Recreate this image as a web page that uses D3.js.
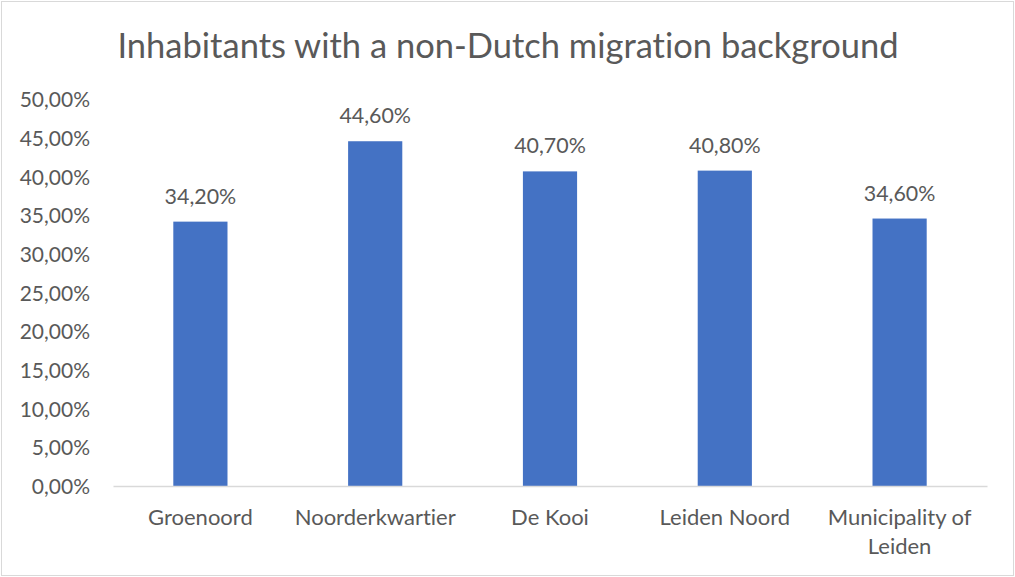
<!DOCTYPE html>
<html>
<head>
<meta charset="utf-8">
<script src="https://cdnjs.cloudflare.com/ajax/libs/d3/7.8.5/d3.min.js"></script>
<style>
  body { margin: 0; background: #fff; }
  text { font-family: Lato, "Open Sans", sans-serif; fill: #595959; font-variant-ligatures: none; font-feature-settings: "liga" 0; }
</style>
</head>
<body>
<div id="chart"></div>
<script>
// data
var categories = ["Groenoord", "Noorderkwartier", "De Kooi", "Leiden Noord", "Municipality of Leiden"];
var values = [34.2, 44.6, 40.7, 40.8, 34.6];
var yTicks = [0, 5, 10, 15, 20, 25, 30, 35, 40, 45, 50];
var title = "Inhabitants with a non-Dutch migration background";

var width = 1015, height = 577;
var margin = { top: 99.5, right: 28, bottom: 91, left: 113 };

var svg = d3.select("#chart").append("svg")
    .attr("width", width)
    .attr("height", height);

// outer frame
svg.append("rect")
    .attr("x", 1.5).attr("y", 1.5)
    .attr("width", width - 3).attr("height", height - 3)
    .style("fill", "#fff")
    .style("stroke", "#d9d9d9");

svg.append("text")
    .attr("x", 508)
    .attr("y", 58)
    .attr("text-anchor", "middle")
    .style("font-size", "34.5px")
    .text(title);

var x = d3.scaleBand()
    .domain(categories)
    .range([margin.left, width - margin.right])
    .paddingInner(0.69)
    .paddingOuter(0.345);

var y = d3.scaleLinear()
    .domain([0, 50])
    .range([height - margin.bottom, margin.top]);

function fmt(v) { return v.toFixed(2).replace(".", ",") + "%"; }

// y axis labels (no gridlines in reference)
var yAxis = d3.axisLeft(y)
    .tickValues(yTicks)
    .tickFormat(fmt)
    .tickSize(0)
    .tickPadding(0);

var gy = svg.append("g")
    .attr("transform", "translate(90,0)")
    .call(yAxis);
gy.select(".domain").remove();
gy.selectAll("text")
    .style("font-size", "21px")
    .style("fill", "#595959")
    .attr("dy", "0.35em");

// bars
svg.selectAll(".bar")
    .data(values)
  .enter().append("rect")
    .attr("class", "bar")
    .attr("x", function(d, i) { return x(categories[i]); })
    .attr("y", function(d) { return y(d); })
    .attr("width", x.bandwidth())
    .attr("height", function(d) { return y(0) - y(d); })
    .style("fill", "#4472c4");

// data labels
svg.selectAll(".lbl")
    .data(values)
  .enter().append("text")
    .attr("class", "lbl")
    .attr("x", function(d, i) { return x(categories[i]) + x.bandwidth() / 2; })
    .attr("y", function(d) { return y(d) - 18; })
    .attr("text-anchor", "middle")
    .style("font-size", "21.4px")
    .text(fmt);

// x axis
var xAxis = d3.axisBottom(x).tickSize(0).tickPadding(0);
var gx = svg.append("g")
    .attr("transform", "translate(0," + y(0) + ")")
    .call(xAxis);
gx.select(".domain")
    .style("stroke", "#d9d9d9")
    .style("stroke-width", 1.5);
gx.selectAll("text").remove();

var catLines = [["Groenoord"], ["Noorderkwartier"], ["De Kooi"], ["Leiden Noord"], ["Municipality of", "Leiden"]];
catLines.forEach(function(lines, i) {
    var t = svg.append("text")
        .attr("x", x(categories[i]) + x.bandwidth() / 2)
        .attr("y", 525)
        .attr("text-anchor", "middle")
        .style("font-size", "22px");
    lines.forEach(function(l, j) {
        t.append("tspan")
            .attr("x", x(categories[i]) + x.bandwidth() / 2)
            .attr("dy", j === 0 ? 0 : 29)
            .text(l);
    });
});
</script>
</body>
</html>
